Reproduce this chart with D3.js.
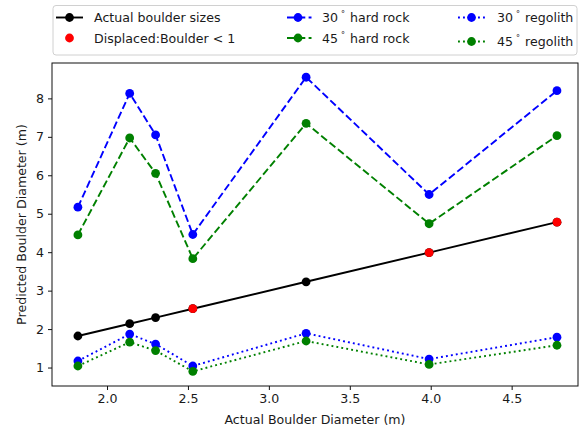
<!DOCTYPE html>
<html>
<head>
<meta charset="utf-8">
<script src="https://cdn.jsdelivr.net/npm/d3@7/dist/d3.min.js"></script>
<style>
  html, body { margin: 0; padding: 0; background: #fff; }
  svg { display: block; font-family: "DejaVu Sans", sans-serif; }
</style>
</head>
<body>
<svg id="chart" width="584" height="430"></svg>
<script>
// Actual boulder diameters (m) — x positions and the reference y = x line
const actual = [1.82, 2.14, 2.30, 2.53, 3.23, 3.99, 4.78];
// Indices of boulders flagged as displaced (Boulder < 1)
const displacedIdx = [3, 5, 6];
// Predicted diameters (m)
const hard30 = [5.17, 8.13, 7.05, 4.46, 8.55, 5.50, 8.20];
const hard45 = [4.45, 6.97, 6.05, 3.83, 7.35, 4.74, 7.03];
const rego30 = [1.17, 1.87, 1.61, 1.04, 1.89, 1.22, 1.79];
const rego45 = [1.04, 1.66, 1.44, 0.90, 1.69, 1.08, 1.58];
// Tick values
const xTicks = [2.0, 2.5, 3.0, 3.5, 4.0, 4.5];
const yTicks = [1, 2, 3, 4, 5, 6, 7, 8];

const svg = d3.select("#chart");
const M = { left: 52, top: 63, right: 578, bottom: 386 };
const FS = 12.6;
const TXT = "#1a1a1a";

const x = d3.scaleLinear().domain([1.66, 4.91]).range([M.left, M.right]);
const y = d3.scaleLinear().domain([0.52, 8.92]).range([M.bottom, M.top]);

// Axes
const xAxis = d3.axisBottom(x).tickValues(xTicks).tickFormat(d3.format(".1f")).tickSizeOuter(0).tickSize(4).tickPadding(4);
const yAxis = d3.axisLeft(y).tickValues(yTicks).tickFormat(d3.format("d")).tickSizeOuter(0).tickSize(4).tickPadding(4);

const gx = svg.append("g").attr("transform", `translate(0,${M.bottom})`).call(xAxis);
const gy = svg.append("g").attr("transform", `translate(${M.left},0)`).call(yAxis);
[gx, gy].forEach(g => {
  g.select(".domain").remove();
  g.selectAll(".tick line").attr("stroke", "#111").attr("stroke-width", 1);
  g.selectAll(".tick text").attr("fill", TXT).style("font-size", FS + "px").style("font-family", "DejaVu Sans");
});

// Axis titles
svg.append("text")
  .attr("x", (M.left + M.right) / 2).attr("y", 424)
  .attr("text-anchor", "middle").attr("fill", TXT).style("font-size", FS + "px")
  .text("Actual Boulder Diameter (m)");
svg.append("text")
  .attr("transform", `translate(26,${(M.top + M.bottom) / 2}) rotate(-90)`)
  .attr("text-anchor", "middle").attr("fill", TXT).style("font-size", FS + "px")
  .text("Predicted Boulder Diameter (m)");

const plot = svg.append("g");

const LW = 1.9, R = 4.4;
const line = d3.line().x((d, i) => x(actual[i])).y(d => y(d));

const series = [
  { vals: actual, color: "#000000", dash: null },
  { vals: hard30, color: "#0000ff", dash: "7.5,3.3" },
  { vals: hard45, color: "#008000", dash: "7.5,3.3" },
  { vals: rego30, color: "#0000ff", dash: "1.9,3.1" },
  { vals: rego45, color: "#008000", dash: "1.9,3.1" }
];

function drawSeries(s) {
  plot.append("path").datum(s.vals)
    .attr("d", line).attr("fill", "none")
    .attr("stroke", s.color).attr("stroke-width", LW)
    .attr("stroke-dasharray", s.dash);
  plot.selectAll(null).data(s.vals).enter().append("circle")
    .attr("cx", (d, i) => x(actual[i])).attr("cy", d => y(d))
    .attr("r", R).attr("fill", s.color);
}

drawSeries(series[0]);
// displaced boulders highlighted in red
plot.selectAll(null).data(displacedIdx).enter().append("circle")
  .attr("cx", i => x(actual[i])).attr("cy", i => y(actual[i]))
  .attr("r", R).attr("fill", "#ff0000");
series.slice(1).forEach(drawSeries);

// Axes frame
svg.append("rect")
  .attr("x", M.left).attr("y", M.top).attr("width", M.right - M.left).attr("height", M.bottom - M.top)
  .attr("fill", "none").attr("stroke", "#111").attr("stroke-width", 1);

// Legend
const lg = svg.append("g");
lg.append("rect")
  .attr("x", 53).attr("y", 5.5).attr("width", 524).attr("height", 49.5)
  .attr("rx", 3).attr("fill", "#fff").attr("stroke", "#d0d0d0").attr("stroke-width", 1);

const legendItems = [
  { label: ["Actual boulder sizes"], color: "#000", dash: null, line: true, hx: 56, tx: 94, ty: 17.5 },
  { label: ["Displaced:Boulder < 1"], color: "#ff0000", dash: null, line: false, hx: 56, tx: 94, ty: 38 },
  { label: ["30", "hard rock"], color: "#0000ff", dash: "7.5,3.3", line: true, hx: 284.5, tx: 322, ty: 17.5 },
  { label: ["45", "hard rock"], color: "#008000", dash: "7.5,3.3", line: true, hx: 284.5, tx: 322, ty: 38 },
  { label: ["30", "regolith"], color: "#0000ff", dash: "1.9,3.1", line: true, hx: 458, tx: 497, ty: 17.5 },
  { label: ["45", "regolith"], color: "#008000", dash: "1.9,3.1", line: true, hx: 458, tx: 497, ty: 41.5 }
];
const HL = 27;
legendItems.forEach(it => {
  if (it.line) {
    lg.append("line")
      .attr("x1", it.hx).attr("x2", it.hx + HL).attr("y1", it.ty).attr("y2", it.ty)
      .attr("stroke", it.color).attr("stroke-width", LW).attr("stroke-dasharray", it.dash)
      .attr("stroke-dashoffset", it.dash ? (it.dash.startsWith("7") ? -2.5 : 0) : null);
  }
  lg.append("circle").attr("cx", it.hx + HL / 2).attr("cy", it.ty).attr("r", R).attr("fill", it.color);
  const t = lg.append("text").attr("x", it.tx).attr("y", it.ty).attr("dy", "0.36em")
    .attr("fill", TXT).style("font-size", FS + "px");
  if (it.label.length === 1) {
    t.text(it.label[0]);
  } else {
    t.append("tspan").text(it.label[0]);
    t.append("tspan").attr("dx", 3).attr("dy", -5).style("font-size", "8px").text("\u00b0");
    t.append("tspan").attr("dx", 5).attr("dy", 5).text(it.label[1]);
  }
});
</script>
</body>
</html>
